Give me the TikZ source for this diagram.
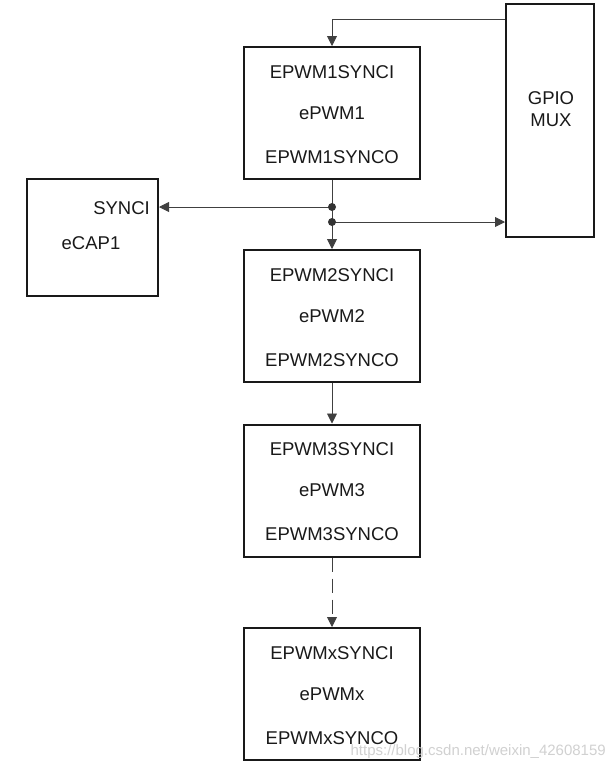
\documentclass[tikz,border=0pt]{standalone}
\usepackage{fontspec}
\setmainfont{Liberation Sans}
\usetikzlibrary{arrows.meta}
\begin{document}
\begin{tikzpicture}[x=1pt,y=-1pt,
  blk/.style={draw=black!90,line width=2pt,minimum width=176pt,minimum height=132pt,inner sep=0pt},
  lbl/.style={font=\fontsize{18.5pt}{22pt}\selectfont,text=black!90,inner sep=0pt},
  conn/.style={draw=black!75,line width=0.9pt,-{Triangle[length=10pt,width=10pt]}},
  dot/.style={circle,fill=black!80,minimum size=8pt,inner sep=0pt}]
\useasboundingbox (0,0) rectangle (615,772);
\fill[white] (0,0) rectangle (615,772);
% blocks
\node[blk] (p1) at (332,113) {};
\node[blk] (p2) at (332,316) {};
\node[blk] (p3) at (332,490.5) {};
\node[blk] (px) at (332,694) {};
\node[draw=black!90,line width=2pt,minimum width=88pt,minimum height=233pt,inner sep=0pt] (gpio) at (550,120.5) {};
\node[draw=black!90,line width=2pt,minimum width=131pt,minimum height=117pt,inner sep=0pt] (ecap) at (92.5,237.5) {};
% texts
\foreach \b/\n in {p1/1,p2/2,p3/3,px/x}{
  \node[lbl] (\b i) at ([yshift=41pt]\b.center) {EPWM\n SYNCI};
  \node[lbl] (\b m) at (\b.center) {ePWM\n};
  \node[lbl] (\b o) at ([yshift=-44pt]\b.center) {EPWM\n SYNCO};
}
\node[lbl,align=center] (gtxt) at (551,109) {GPIO\\MUX};
\node[lbl,anchor=east] (synci) at (150,208) {SYNCI};
\node[lbl] (ecapt) at (91,243) {eCAP1};
% connectors
\coordinate (g1) at (gpio.west |- 0,19);
\coordinate (d1) at (332,207);
\coordinate (d2) at (332,222);
\draw[conn] (g1) -| (p1.north);
\draw[conn] (p1.south) -- (p2.north);
\draw[conn] (d1) -- (ecap.east |- d1);
\draw[conn] (d2) -- (gpio.west |- d2);
\draw[conn] (p2.south) -- (p3.north);
\draw[conn,dash pattern=on 14pt off 7pt] (p3.south) -- (px.north);
\node[dot] (dd1) at (d1) {};
\node[dot] (dd2) at (d2) {};
% watermark
\node[font=\fontsize{15pt}{18pt}\selectfont,text=black!18,anchor=east,inner sep=0pt] (wm) at (606,752) {https://blog.csdn.net/weixin\_42608159};
\end{tikzpicture}
\end{document}
